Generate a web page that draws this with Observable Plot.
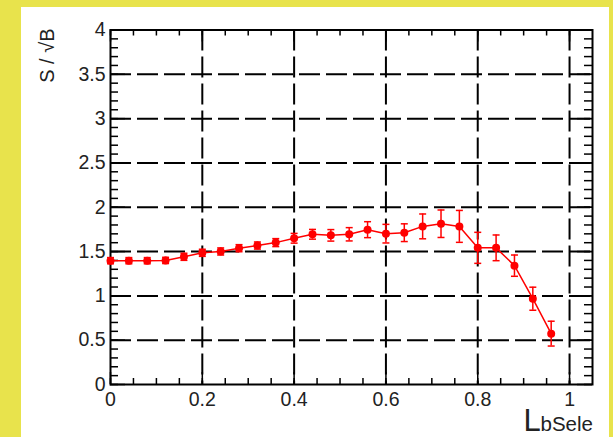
<!DOCTYPE html>
<html>
<head>
<meta charset="utf-8">
<script src="https://cdn.jsdelivr.net/npm/d3@7"></script>
<script src="https://cdn.jsdelivr.net/npm/@observablehq/plot@0.6"></script>
<style>
  html, body { margin: 0; padding: 0; background: #e8e34c; }
  #chart { padding: 7px 0 0 21px; width: 588px; height: 430px; }
</style>
</head>
<body>
<div id="chart"></div>
<script>
// Cut value on the b-selection likelihood
const cuts = [0, 0.04, 0.08, 0.12, 0.16, 0.20, 0.24, 0.28, 0.32, 0.36, 0.40, 0.44, 0.48,
              0.52, 0.56, 0.60, 0.64, 0.68, 0.72, 0.76, 0.80, 0.84, 0.88, 0.92, 0.96];
// Significance S / sqrt(B) after the cut
const significance = [1.397, 1.397, 1.397, 1.40, 1.441, 1.486, 1.501, 1.538, 1.568, 1.601, 1.650, 1.695, 1.683,
                      1.695, 1.747, 1.702, 1.713, 1.784, 1.814, 1.784, 1.542, 1.542, 1.341, 0.968, 0.574];
// Statistical uncertainty on the significance
const errors = [0.035, 0.035, 0.035, 0.035, 0.04, 0.04, 0.04, 0.04, 0.04, 0.045, 0.055, 0.055, 0.065,
                0.075, 0.09, 0.105, 0.10, 0.14, 0.155, 0.18, 0.175, 0.145, 0.12, 0.13, 0.14];

const xTicks = [0, 0.2, 0.4, 0.6, 0.8, 1];
const yTicks = [0, 0.5, 1, 1.5, 2, 2.5, 3, 3.5, 4];
const xMinor = d3.range(21).map(i => i * 0.05);
const yMinor = d3.range(41).map(i => i / 10);

const rows = cuts.map((x, i) => ({x, y: significance[i], e: errors[i]}));

const W = 588, H = 430;
const M = {left: 89, right: 17, top: 22.5, bottom: 53};
const innerW = W - M.left - M.right;
const innerH = H - M.top - M.bottom;

const fmt = d => String(+d.toFixed(1));
const ink = "#222";
const red = "#ff0000";

// horizontal bar symbol used for error-bar caps
const hbar = {
  draw(ctx, size) {
    const r = Math.sqrt(size / Math.PI);
    ctx.moveTo(-r, 0);
    ctx.lineTo(r, 0);
  }
};

const grid = {stroke: "black", strokeOpacity: 1, strokeWidth: 2, strokeDasharray: "21,6"};
const tick = {stroke: "black", strokeWidth: 1.5};

const chart = Plot.plot({
  width: W,
  height: H,
  marginLeft: M.left,
  marginRight: M.right,
  marginTop: M.top,
  marginBottom: M.bottom,
  style: {fontFamily: "'Liberation Sans', Arial, Helvetica, sans-serif", fontSize: "19px", color: ink, background: "white"},
  x: {domain: [0, 1.05]},
  y: {domain: [0, 4]},
  marks: [
    Plot.gridX(xTicks.slice(1), grid),
    Plot.gridY(yTicks.slice(1), grid),
    // inward ticks on all four sides
    Plot.tickX(xMinor, {x: d => d, insetTop: innerH - 6, ...tick}),
    Plot.tickX(xMinor, {x: d => d, insetBottom: innerH - 6, ...tick}),
    Plot.tickX(xTicks, {x: d => d, insetTop: innerH - 12, ...tick}),
    Plot.tickX(xTicks, {x: d => d, insetBottom: innerH - 12, ...tick}),
    Plot.tickY(yMinor, {y: d => d, insetRight: innerW - 8, ...tick}),
    Plot.tickY(yMinor, {y: d => d, insetLeft: innerW - 8, ...tick}),
    Plot.tickY(yTicks, {y: d => d, insetRight: innerW - 15, ...tick}),
    Plot.tickY(yTicks, {y: d => d, insetLeft: innerW - 15, ...tick}),
    Plot.frame({stroke: "black", strokeWidth: 2}),
    Plot.axisX(xTicks, {tickSize: 0, tickPadding: 8, fontSize: 19.5, tickFormat: fmt, label: null}),
    Plot.axisY(yTicks, {tickSize: 0, tickPadding: 5, fontSize: 19.5, tickFormat: fmt, label: null}),
    // data: connecting line, error bars with caps, markers
    Plot.line(rows, {x: "x", y: "y", stroke: red, strokeWidth: 1.5}),
    Plot.ruleX(rows, {x: "x", y1: d => d.y - d.e, y2: d => d.y + d.e, stroke: red, strokeWidth: 1.5}),
    Plot.dot(rows, {x: "x", y: d => d.y + d.e, symbol: hbar, r: 3.5, stroke: red, strokeWidth: 1.5, fill: "none"}),
    Plot.dot(rows, {x: "x", y: d => d.y - d.e, symbol: hbar, r: 3.5, stroke: red, strokeWidth: 1.5, fill: "none"}),
    Plot.dot(rows, {x: "x", y: "y", r: 4, fill: red, stroke: "none"}),
    // axis titles
    Plot.text(["S / √B"], {frameAnchor: "top-left", text: d => d, rotate: -90, textAnchor: "end",
      lineAnchor: "middle", dx: -63, dy: -1.5, fontSize: 20, fill: ink, ariaLabel: "y-title"}),
    Plot.text(["L"], {frameAnchor: "bottom-right", text: d => d, textAnchor: "start",
      lineAnchor: "bottom", dx: -69, dy: 46, fontSize: 31, fill: ink}),
    Plot.text(["bSele"], {frameAnchor: "bottom-right", text: d => d, textAnchor: "start",
      lineAnchor: "bottom", dx: -52, dy: 46, fontSize: 20.5, fill: ink})
  ]
});

// put the radicand under an overbar so the square root reads as one symbol
const title = d3.select(chart).select('g[aria-label="y-title"] text');
title.text(null).style("word-spacing", "9px");
title.append("tspan").text("S / ");
title.append("tspan").text("√").style("font-size", "24px");
title.append("tspan").text("B").style("text-decoration", "overline");

document.getElementById("chart").append(chart);
</script>
</body>
</html>
